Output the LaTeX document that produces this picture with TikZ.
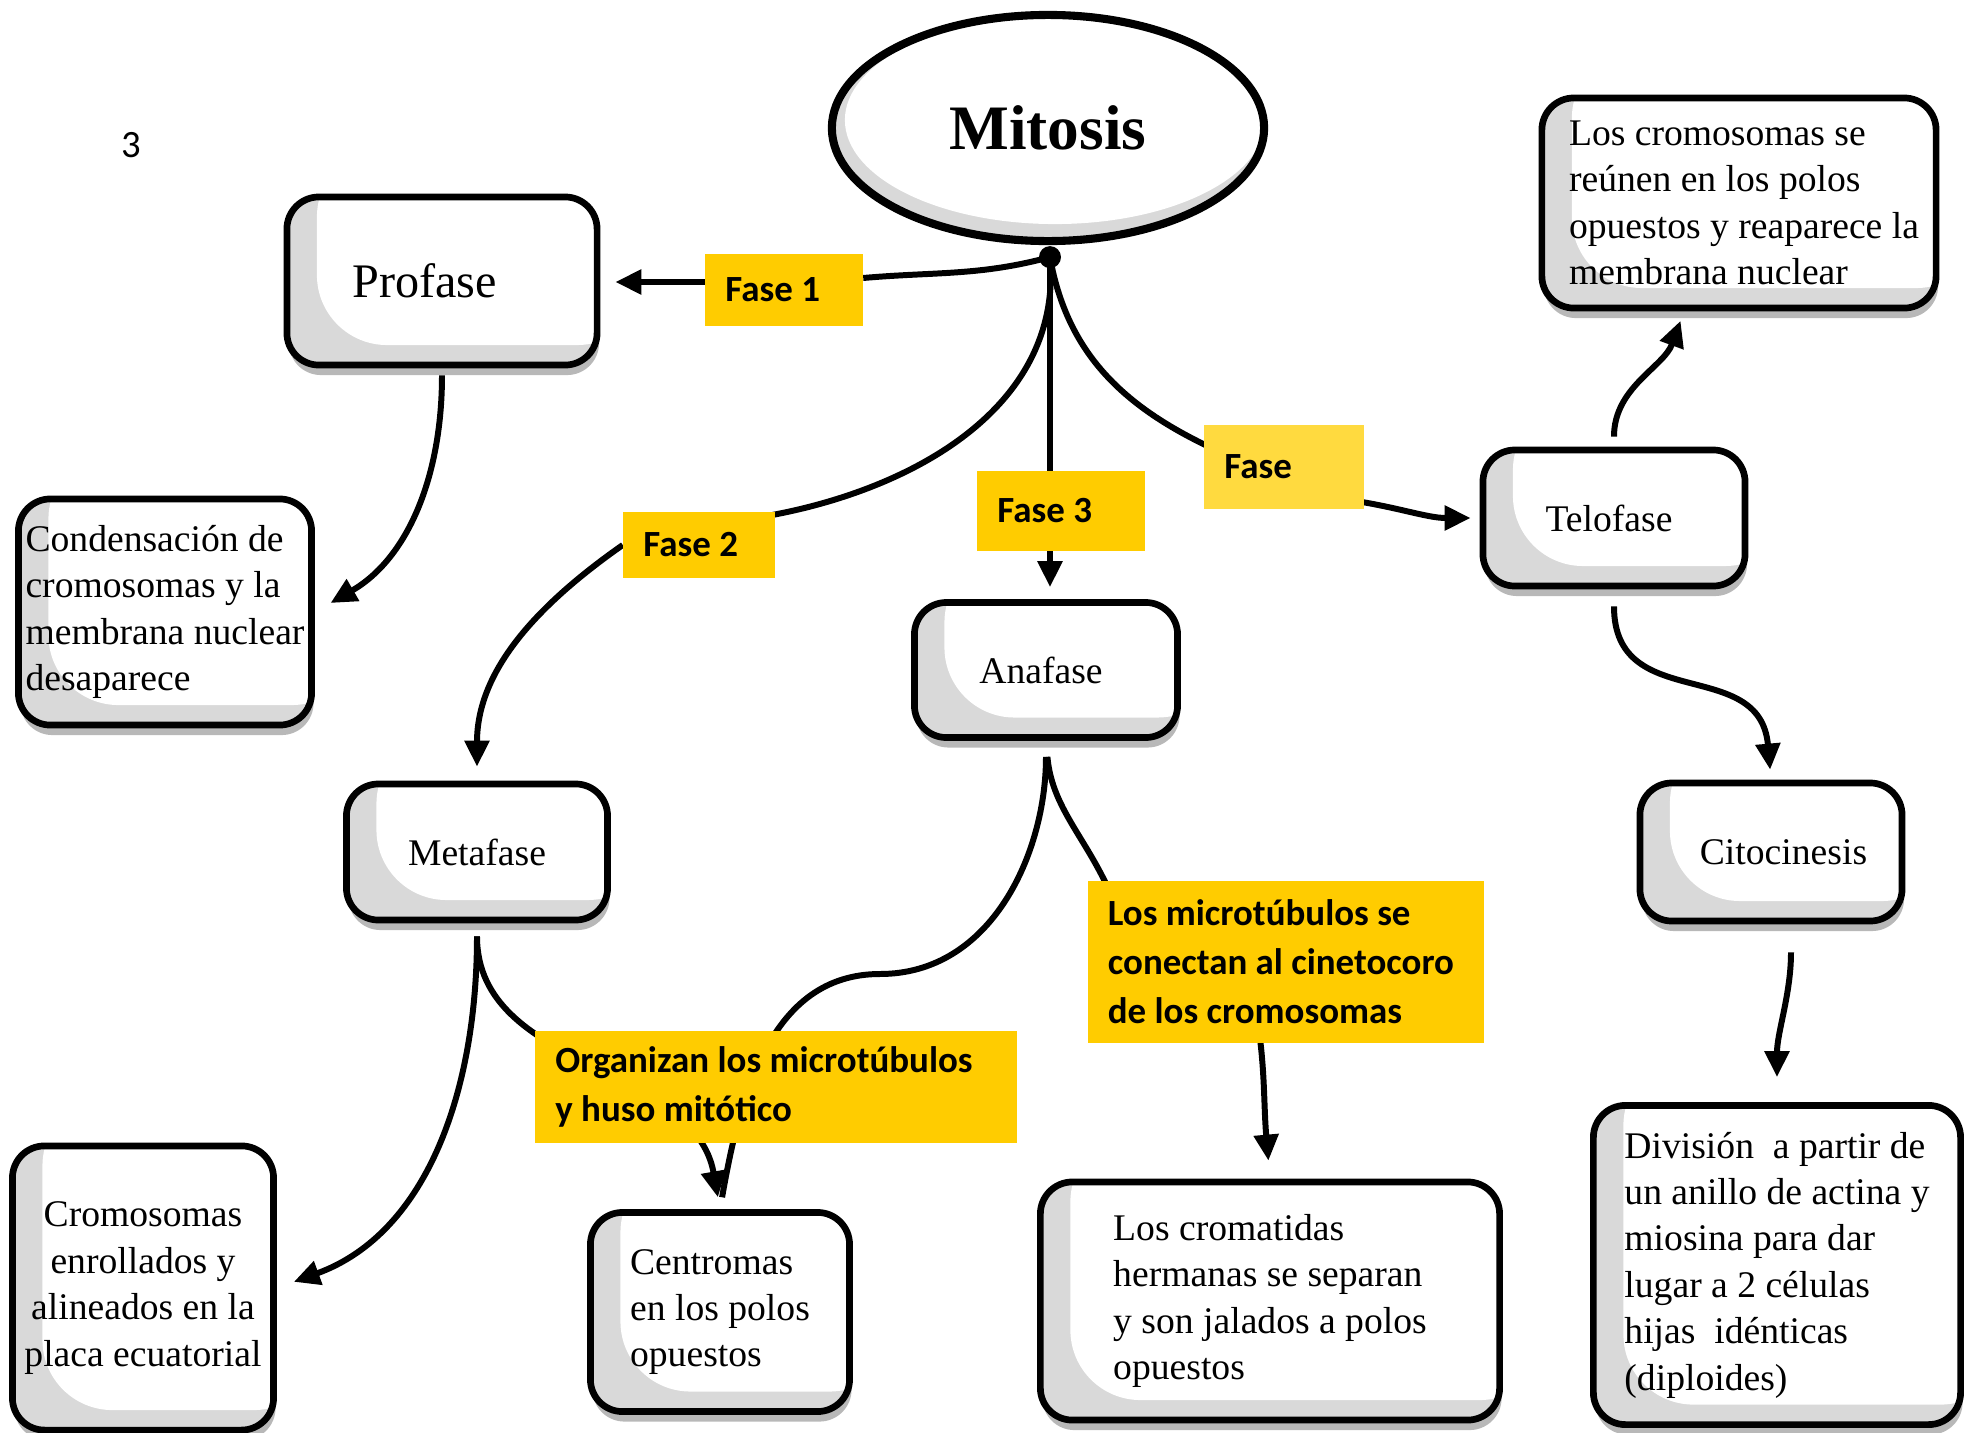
\documentclass[tikz,border=0pt]{standalone}
\usepackage{fontspec}
\setmainfont{Liberation Serif}
\newfontfamily\carlito{Carlito}
\usetikzlibrary{arrows.meta,shapes.geometric,shadows}
\definecolor{faseyellow}{HTML}{FFCC00}
\definecolor{faselight}{HTML}{FFDA3F}
\pgfdeclarelayer{bg}
\pgfsetlayers{bg,main}
\tikzset{
  bubble/.style={draw, line width=1.9pt, rounded corners=0.32cm, fill=gray!30,
    drop shadow={shadow xshift=0.02cm, shadow yshift=-0.1cm, fill=black, opacity=0.28},
    path picture={\fill[white, rounded corners=0.7cm]
      ([xshift=0.3cm,yshift=0.2cm]path picture bounding box.south west) rectangle
      ([xshift=0.5cm,yshift=0.5cm]path picture bounding box.north east);},
    font=\fontsize{10.7}{13.2}\selectfont, align=left, inner sep=0.05cm},
  elli/.style={ellipse, draw, line width=2.3pt, fill=gray!30,
    path picture={\fill[white] ([xshift=0.07cm,yshift=0.08cm]path picture bounding box.center)
      ellipse (2.1cm and 1.04cm);}},
  fase/.style={fill=faseyellow, font=\carlito\bfseries\fontsize{10.5}{13.9}\selectfont,
    align=flush left, inner xsep=0.2cm, inner ysep=0pt},
  link/.style={line width=1.7pt},
}
\begin{document}
\begin{tikzpicture}[x=0.01cm, y=0.01cm, >={Triangle[length=0.26cm,width=0.24cm]}]
\useasboundingbox (0,0) rectangle (1971,-1433);
\node[font=\carlito\fontsize{11}{13}\selectfont] (pg) at (131,-145) {3};
\node[elli, minimum width=4.32cm, minimum height=2.26cm,
  font=\bfseries\fontsize{18}{20}\selectfont] (mit) at (1048,-128) {Mitosis};
\coordinate (hub) at ([xshift=0.02cm,yshift=-0.12cm]mit.south);

\node[bubble, minimum width=3.1cm, minimum height=1.68cm, font=\fontsize{13.7}{16}\selectfont] (pro) at (442,-281) {Profase\kern0.35cm};
\node[bubble, minimum width=2.93cm, minimum height=2.26cm] (cond) at (165,-612)
  {Condensación de\\cromosomas y la\\membrana nuclear\\desaparece};
\node[bubble, minimum width=2.61cm, minimum height=1.36cm] (meta) at (477,-852) {Metafase};
\node[bubble, minimum width=2.63cm, minimum height=1.35cm] (ana) at (1046,-670) {Anafase\kern0.1cm};
\node[bubble, minimum width=2.62cm, minimum height=1.36cm] (telo) at (1614,-518) {Telofase\kern0.1cm};
\node[bubble, minimum width=2.62cm, minimum height=1.38cm] (cito) at (1771,-852) {\kern0.25cm Citocinesis};
\node[bubble, minimum width=3.94cm, minimum height=2.1cm] (reun) at (1739,-203)
  {\kern0.1cm Los cromosomas se\\\kern0.1cm reúnen en los polos\\\kern0.1cm opuestos y reaparece la\\\kern0.1cm membrana nuclear};
\node[bubble, minimum width=3.67cm, minimum height=3.19cm] (divi) at (1777,-1265)
  {División\ \ a partir de\\un anillo de actina y\\miosina para dar\\lugar a 2 células\\hijas\ \ idénticas\\(diploides)};
\node[bubble, minimum width=2.61cm, minimum height=2.84cm, align=center] (cromo) at (143,-1288)
  {Cromosomas\\enrollados y\\alineados en la\\placa ecuatorial};
\node[bubble, minimum width=2.59cm, minimum height=1.99cm] (centro) at (720,-1312)
  {Centromas\\en los polos\\opuestos};
\node[bubble, minimum width=4.59cm, minimum height=2.38cm] (crom) at (1270,-1301)
  {Los cromatidas\\hermanas se separan\\y son jalados a polos\\opuestos};

\node[fase, text width=1.17cm, minimum height=0.72cm] (f1) at (784,-290) {Fase 1};
\node[fase, text width=1.11cm, minimum height=0.66cm] (f2) at (699,-545) {Fase 2};
\node[fase, text width=1.27cm, minimum height=0.8cm] (f3) at (1061,-511) {Fase 3};
\node[fase, fill=faselight, text width=1.19cm, minimum height=0.83cm] (f4) at (1284,-467) {Fase};
\node[fase, text width=3.56cm, minimum height=1.62cm] (mt) at (1286,-962)
  {Los microtúbulos se\\conectan al cinetocoro\\de los cromosomas};
\node[fase, text width=4.41cm, minimum height=1.12cm] (org) at (776,-1087)
  {Organizan los microtúbulos\\y huso mitótico};
\coordinate (bend) at (880,-974);

\begin{pgfonlayer}{bg}
\draw[link] (hub) to[out=195,in=5] ([yshift=0.12cm]f1.east);
\draw[link,->,shorten >=0.15cm] ([yshift=0.08cm]f1.west) -- ([yshift=0.08cm]f1.west -| pro.east);
\draw[link] (hub) to[out=-85,in=10] ([xshift=-0.1cm,yshift=-0.05cm]f2.north east);
\draw[link,->,shorten >=0.14cm] (f2.west) to[out=215,in=90] (meta.north);
\draw[link] (hub) -- (hub |- f3.center);
\draw[link,->,shorten >=0.12cm] (hub |- f3.center) -- (hub |- ana.north);
\draw[link] (hub) to[out=-80,in=155] ([xshift=0.1cm,yshift=0.18cm]f4.west);
\draw[link,->,shorten >=0.09cm] ([xshift=-0.2cm,yshift=0.1cm]f4.south east) to[out=-8,in=180] (telo.west);
\draw[link,->,shorten <=0.1cm,shorten >=0.1cm] (telo.north) to[out=90,in=250] ([xshift=-0.55cm]reun.south);
\draw[link,->,shorten <=0.17cm,shorten >=0.1cm] (telo.south) to[out=-90,in=95,looseness=1.3] (cito.north);
\draw[link,->,shorten <=0.28cm,shorten >=0.25cm] ([xshift=0.2cm]cito.south) to[out=-90,in=90] (divi.north);
\draw[link,->,shorten <=0.07cm,shorten >=0.18cm] (pro.south) to[out=-90,in=30] (cond.east);
\draw[link,->,shorten <=0.13cm,shorten >=0.18cm] (meta.south) to[out=-90,in=20] (cromo.east);
\draw[link,->,shorten <=0.13cm,shorten >=0.12cm] (meta.south) to[out=-90,in=100] (centro.north);
\draw[link,shorten <=0.16cm,shorten >=0.12cm] (ana.south) to[out=-90,in=0] (bend) to[out=180,in=80] (centro.north);
\draw[link,shorten <=0.16cm] (ana.south) to[out=-85,in=110] ([xshift=0.3cm,yshift=-0.3cm]mt.north west);
\draw[link,->,shorten >=0.18cm] ([xshift=-0.41cm]mt.center) to[out=-75,in=95] (crom.north);
\end{pgfonlayer}
\fill (hub) circle (0.11cm);
\end{tikzpicture}
\end{document}
